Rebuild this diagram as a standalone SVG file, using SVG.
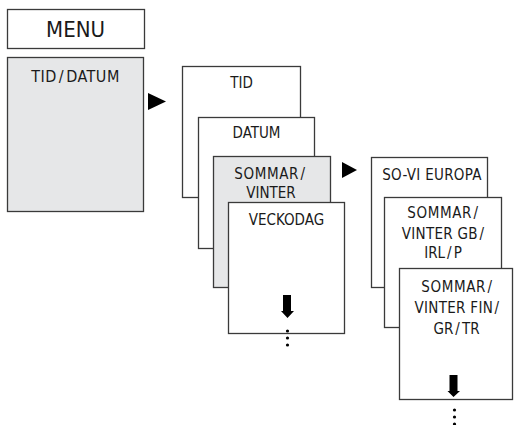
<svg xmlns="http://www.w3.org/2000/svg" width="514" height="425" viewBox="0 0 514 425">
<style>
.box{stroke:#3a3a3a;stroke-width:1.3;fill:#fff}
.grey{fill:#e6e7e8}
text{font-family:"DejaVu Sans Condensed","DejaVu Sans","Liberation Sans",sans-serif;font-stretch:condensed;font-size:15px;fill:#1a1a1a;text-anchor:middle}
.blk{fill:#000}
</style>
<rect width="514" height="425" fill="#fff"/>
<g id="menu"><rect class="box" x="7.5" y="9.5" width="137" height="39"/><text x="75.5" y="37" style="font-size:22px">MENU</text></g>
<g id="tid-datum"><rect class="box grey" x="7.5" y="57.5" width="136" height="154"/><text x="75.5" y="82" style="font-size:16px" letter-spacing="0.5">TID<tspan dx="2">/</tspan><tspan dx="2">DATUM</tspan></text></g>
<g id="tid"><rect class="box" x="182.5" y="66.5" width="118" height="131"/><text x="241.5" y="88">TID</text></g>
<g id="datum"><rect class="box" x="198.5" y="117.5" width="116" height="131"/><text x="256.5" y="138">DATUM</text></g>
<g id="sommar-vinter"><rect class="box grey" x="213.5" y="156.5" width="117" height="131"/><text x="270" y="179" letter-spacing="0.6">SOMMAR<tspan dx="1.5">/</tspan></text><text x="271" y="198">VINTER</text></g>
<g id="veckodag"><rect class="box" x="228.5" y="202.5" width="116" height="131"/><text x="286.5" y="225">VECKODAG</text>
<path class="blk" d="M283,295H291V311H294L287.5,318L281,311H283Z"/>
<circle class="blk" cx="287.5" cy="331" r="1.6"/><circle class="blk" cx="287.5" cy="338" r="1.6"/><circle class="blk" cx="287.5" cy="345" r="1.6"/></g>
<g id="so-vi-europa"><rect class="box" x="371.5" y="157.5" width="116" height="130"/><text x="432" y="180" letter-spacing="0.3">SO-VI EUROPA</text></g>
<g id="sommar-gb"><rect class="box" x="384.5" y="197.5" width="117" height="130"/><text x="443" y="218" letter-spacing="0.6">SOMMAR<tspan dx="1.5">/</tspan></text><text x="443" y="239" letter-spacing="0.3">VINTER GB<tspan dx="1.5">/</tspan></text><text x="443" y="258">IRL<tspan dx="2">/</tspan><tspan dx="2">P</tspan></text></g>
<g id="sommar-fin"><rect class="box" x="399.5" y="268.5" width="113" height="131"/><text x="457" y="292" letter-spacing="0.6">SOMMAR<tspan dx="1.5">/</tspan></text><text x="457" y="313" letter-spacing="0.3">VINTER FIN<tspan dx="1.5">/</tspan></text><text x="456.5" y="334">GR<tspan dx="2">/</tspan><tspan dx="2">TR</tspan></text>
<path class="blk" d="M449.5,375H457.5V391H460L453.5,397L447.5,391H449.5Z"/>
<circle class="blk" cx="454.5" cy="410" r="1.6"/><circle class="blk" cx="454.5" cy="417" r="1.6"/><circle class="blk" cx="454.5" cy="424" r="1.6"/></g>
<g id="connectors">
<polygon class="blk" points="148,93 166,101.5 148,110"/>
<polygon class="blk" points="342,162 357,170 342,178"/>
</g>
</svg>
